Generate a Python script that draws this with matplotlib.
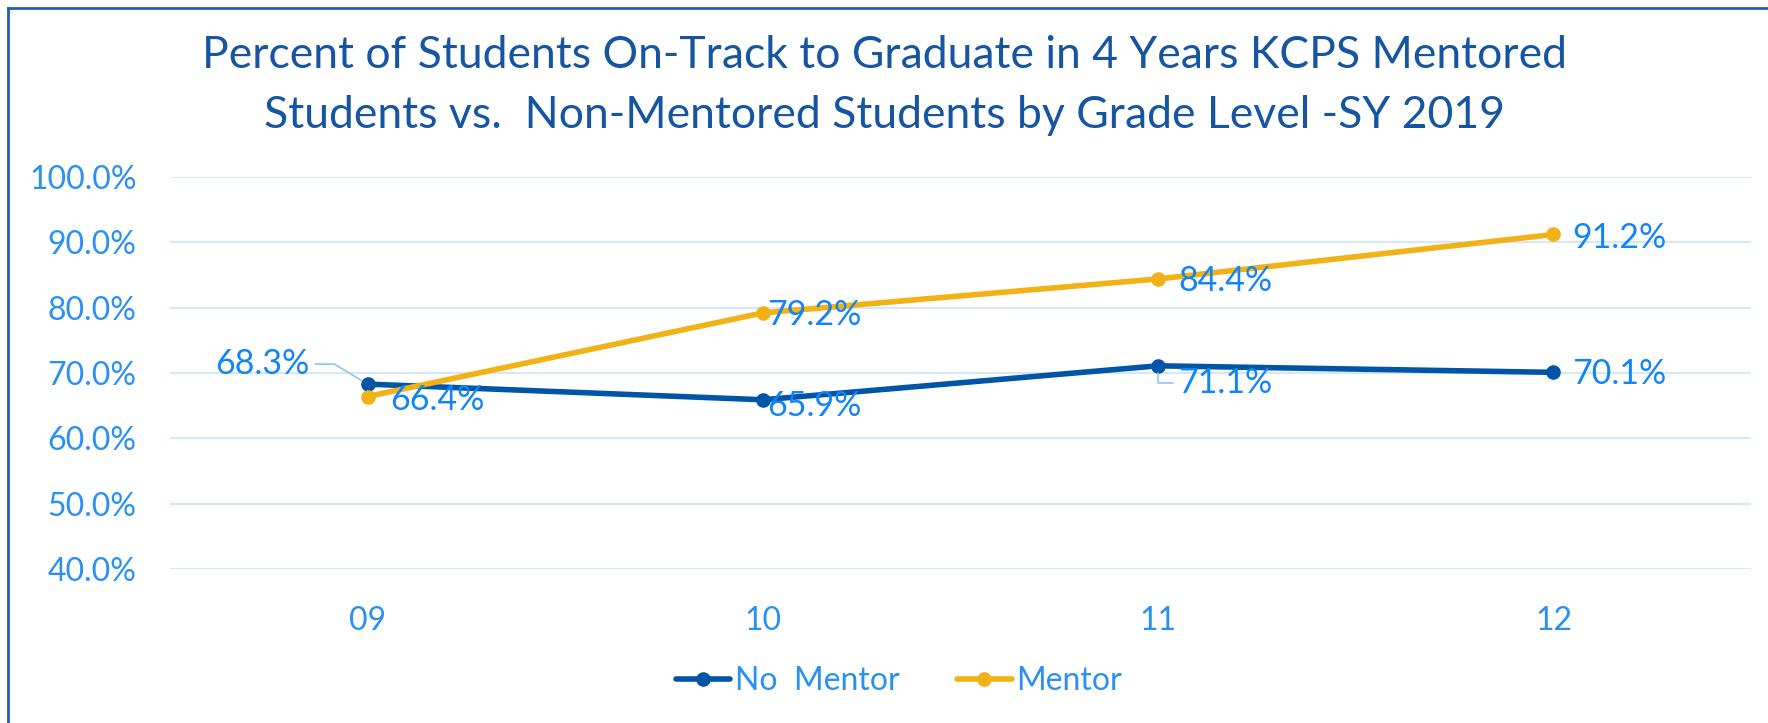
import numpy as np
import matplotlib
matplotlib.use("Agg")
import matplotlib.pyplot as plt
from matplotlib.lines import Line2D

# data
grades = ["09", "10", "11", "12"]
no_mentor = [68.3, 65.9, 71.1, 70.1]
mentor = [66.4, 79.2, 84.4, 91.2]
y_ticks = [40, 50, 60, 70, 80, 90, 100]

plt.rcParams['font.family'] = ['Lato', 'DejaVu Sans']

c_dark = '#0055A6'
c_gold = '#F0B214'
c_text = '#2A90F2'
c_lab = '#1184F7'
c_grid = '#D5E7FA'
c_title = '#1655A2'

fig = plt.figure(figsize=(17.68, 7.23), dpi=100)
ax = fig.add_axes([170 / 1768, 1 - 569 / 723, 1581 / 1768, 392 / 723])

x = np.arange(len(grades))
ax.plot(x, no_mentor, color=c_dark, lw=4.0, marker='o', ms=9.5, label='No  Mentor',
        solid_capstyle='round', zorder=3)
ax.plot(x, mentor, color=c_gold, lw=4.0, marker='o', ms=9.5, label='Mentor',
        solid_capstyle='round', zorder=3)

ax.set_xlim(-0.5, len(grades) - 0.5)
ax.set_ylim(40, 100)
ax.set_yticks(y_ticks)
ax.set_yticklabels(['%.1f%%' % v for v in y_ticks])
ax.set_xticks(x)
ax.set_xticklabels(grades)
ax.grid(axis='y', color=c_grid, lw=1.5)
ax.set_axisbelow(True)
for s in ax.spines.values():
    s.set_visible(False)
ax.tick_params(length=0, labelsize=23, colors=c_text)
ax.tick_params(axis='y', pad=24)
ax.tick_params(axis='x', pad=27)

# data labels (offsets in pixels from each point)
lab_kw = dict(textcoords='offset pixels', va='center', fontsize=24.5, color=c_lab, zorder=4)
lead = dict(arrowstyle='-', color='#90C4F4', lw=1.2, shrinkB=5)

ax.annotate('%.1f%%' % no_mentor[0], (x[0], no_mentor[0]), xytext=(-58, 20), ha='right',
            arrowprops=dict(lead, relpos=(1, 0.5),
                            connectionstyle='angle,angleA=0,angleB=149,rad=0'), **lab_kw)
ax.annotate('%.1f%%' % mentor[0], (x[0], mentor[0]), xytext=(23, -3), ha='left', **lab_kw)
ax.annotate('%.1f%%' % mentor[1], (x[1], mentor[1]), xytext=(4, -2), ha='left', **lab_kw)
ax.annotate('%.1f%%' % no_mentor[1], (x[1], no_mentor[1]), xytext=(4, -6), ha='left', **lab_kw)
ax.annotate('%.1f%%' % mentor[2], (x[2], mentor[2]), xytext=(20, -2), ha='left', **lab_kw)
ax.annotate('%.1f%%' % no_mentor[2], (x[2], no_mentor[2]), xytext=(20, -17), ha='left',
            arrowprops=dict(lead, relpos=(0, 0.5),
                            connectionstyle='angle,angleA=0,angleB=90,rad=0'), **lab_kw)
ax.annotate('%.1f%%' % mentor[3], (x[3], mentor[3]), xytext=(19, -4), ha='left', **lab_kw)
ax.annotate('%.1f%%' % no_mentor[3], (x[3], no_mentor[3]), xytext=(19, -2), ha='left', **lab_kw)

leg = fig.legend(loc='center', bbox_to_anchor=(899 / 1768, 1 - 681 / 723), ncol=2,
                 frameon=False, fontsize=23, handlelength=1.7, handletextpad=0.15,
                 columnspacing=1.8)
for t in leg.get_texts():
    t.set_color(c_text)

fig.text(0.5, 1 - 55 / 723, 'Percent of Students On-Track to Graduate in 4 Years KCPS Mentored',
         ha='center', va='center', fontsize=32, color=c_title)
fig.text(0.5, 1 - 115 / 723, 'Students vs.  Non-Mentored Students by Grade Level -SY 2019',
         ha='center', va='center', fontsize=32, color=c_title)

# chart frame (right and bottom edges fall outside the picture)
fig.add_artist(Line2D([8 / 1768, 8 / 1768], [0, 1 - 8 / 723], color='#1F5FAD', lw=2))
fig.add_artist(Line2D([8 / 1768, 1], [1 - 8 / 723, 1 - 8 / 723], color='#1F5FAD', lw=2))

fig.savefig('out.png', dpi=100)
